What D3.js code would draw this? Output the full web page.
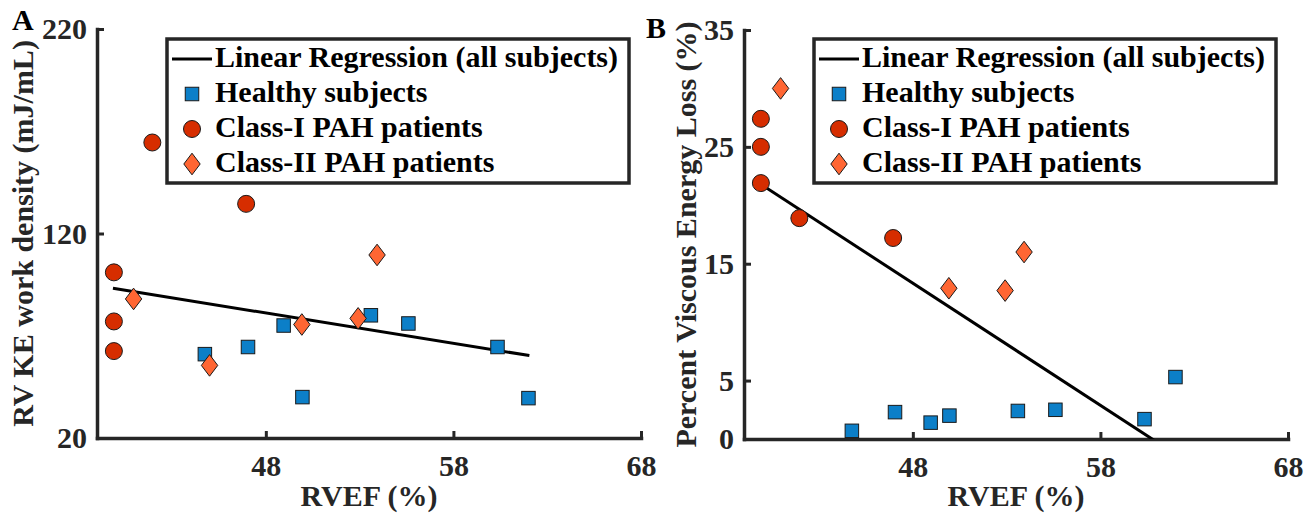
<!DOCTYPE html>
<html>
<head>
<meta charset="utf-8">
<title>RVEF vs KE work density and viscous energy loss</title>
<script src="https://cdnjs.cloudflare.com/ajax/libs/d3/7.8.5/d3.min.js"></script>
<style>
  body { margin: 0; background: #fff; }
  svg text { font-family: "Liberation Serif", "Times New Roman", serif; font-weight: bold; }
</style>
</head>
<body>
<svg id="chart" width="1304" height="517"></svg>
<script>
// RVEF (%) of each subject, shared by both panels
const rvefHealthy = [44.75, 47.05, 48.95, 49.95, 53.6, 55.6, 60.35, 62.0];
const rvefClassI = [39.9, 39.9, 39.9, 41.95, 46.95];
const rvefClassII = [40.95, 45.0, 49.92, 52.92, 53.93];

// panel A: RV KE work density (mJ/mL)
const kedHealthy = [61, 64.5, 75, 40, 80, 76, 64.5, 39.5];
const kedClassI = [101, 77, 62.5, 164.5, 134.5];
const kedClassII = [88, 55.5, 75.5, 78.5, 109.5];

// panel B: percent viscous energy loss (%)
const velHealthy = [0.7, 2.3, 1.4, 2.0, 2.4, 2.5, 1.7, 5.3];
const velClassI = [27.4, 25.0, 21.9, 18.9, 17.2];
const velClassII = [30.0, 28, 12.9, 12.7, 16.0];   // 2nd point sits behind the legend

// regression line end points (all subjects)
const regRvef = [39.85, 62.05];
const regKed = [93.2, 60.3];
const regVel = [21.85, -1.35];

// axes
const rvefDomain = [39, 68];
const rvefTicks = [48, 58, 68];
const kedTicks = [20, 120, 220];
const velTicks = [0, 5, 15, 25, 35];

const legendLabels = ['Linear Regression (all subjects)', 'Healthy subjects',
                      'Class-I PAH patients', 'Class-II PAH patients'];

const BLUE = '#0c7fc8', RED = '#d62d00', ORANGE = '#ff6633', AX = '#262626';

const svg = d3.select('#chart');

const panels = [
  { letter: 'A', letterX: 12, letterY: 30, left: 97, right: 641, top: 29, bottom: 438,
    yDomain: [20, 220], yTicks: kedTicks, yLabel: 'RV KE work density (mJ/mL)', yLabelX: 33,
    healthy: kedHealthy, classI: kedClassI, classII: kedClassII, reg: regKed },
  { letter: 'B', letterX: 646, letterY: 38, left: 744, right: 1288, top: 30, bottom: 439,
    yDomain: [0, 35], yTicks: velTicks, yLabel: 'Percent Viscous Energy Loss (%)', yLabelX: 696,
    healthy: velHealthy, classI: velClassI, classII: velClassII, reg: regVel }
];

function square(sel, cx, cy) {
  sel.append('rect')
    .attr('x', cx - 6.75).attr('y', cy - 6.75)
    .attr('width', 13.5).attr('height', 13.5)
    .attr('fill', BLUE).attr('stroke', '#1a1a1a').attr('stroke-width', 1);
}
function circle(sel, cx, cy) {
  sel.append('circle')
    .attr('cx', cx).attr('cy', cy).attr('r', 8.5)
    .attr('fill', RED).attr('stroke', '#1a1a1a').attr('stroke-width', 1);
}
function diamond(sel, cx, cy) {
  sel.append('path')
    .attr('d', `M${cx},${cy - 10.8}L${cx + 8.2},${cy}L${cx},${cy + 10.8}L${cx - 8.2},${cy}Z`)
    .attr('fill', ORANGE).attr('stroke', '#1a1a1a').attr('stroke-width', 1);
}

function styleAxis(g) {
  g.attr('font-size', 30)
    .attr('font-family', '"Liberation Serif", "Times New Roman", serif')
    .attr('font-weight', 'bold');
  g.select('.domain').attr('stroke', AX).attr('stroke-width', 3.5).attr('stroke-linecap', 'square');
  g.selectAll('.tick line').attr('stroke', AX).attr('stroke-width', 3);
  g.selectAll('.tick text').attr('fill', AX);
}

panels.forEach(p => {
  const x = d3.scaleLinear().domain(rvefDomain).range([p.left, p.right]);
  const y = d3.scaleLinear().domain(p.yDomain).range([p.bottom, p.top]);
  const g = svg.append('g');

  const clipId = 'clip' + p.letter;
  svg.append('clipPath').attr('id', clipId)
    .append('rect')
      .attr('x', p.left).attr('y', p.top)
      .attr('width', p.right - p.left).attr('height', p.bottom - p.top);

  // axes
  g.append('g')
    .attr('transform', `translate(0,${p.bottom})`)
    .call(d3.axisBottom(x).tickValues(rvefTicks).tickSizeInner(-7).tickSizeOuter(0).tickPadding(17))
    .call(styleAxis);

  g.append('g')
    .attr('transform', `translate(${p.left},0)`)
    .call(d3.axisLeft(y).tickValues(p.yTicks).tickSizeInner(-7).tickSizeOuter(0).tickPadding(10))
    .call(styleAxis);

  // axis labels
  g.append('text')
    .attr('x', (p.left + p.right) / 2).attr('y', 506)
    .attr('text-anchor', 'middle').attr('font-size', 30).attr('fill', AX)
    .text('RVEF (%)');

  g.append('text')
    .attr('transform', `translate(${p.yLabelX},${(p.top + p.bottom) / 2}) rotate(-90)`)
    .attr('text-anchor', 'middle').attr('font-size', 30).attr('fill', AX)
    .text(p.yLabel);

  g.append('text')
    .attr('x', p.letterX).attr('y', p.letterY)
    .attr('font-size', 30).attr('fill', '#000')
    .text(p.letter);

  // regression line
  g.append('line')
    .attr('clip-path', `url(#${clipId})`)
    .attr('x1', x(regRvef[0])).attr('y1', y(p.reg[0]))
    .attr('x2', x(regRvef[1])).attr('y2', y(p.reg[1]))
    .attr('stroke', '#000').attr('stroke-width', 3);

  // markers
  const m = g.append('g');
  rvefHealthy.forEach((v, i) => square(m, x(v), y(p.healthy[i])));
  rvefClassI.forEach((v, i) => circle(m, x(v), y(p.classI[i])));
  rvefClassII.forEach((v, i) => diamond(m, x(v), y(p.classII[i])));

  // legend
  const lx = p.left + 70, ly = 39;
  const lg = g.append('g');
  lg.append('rect')
    .attr('x', lx).attr('y', ly).attr('width', 462).attr('height', 144)
    .attr('fill', '#fff').attr('stroke', AX).attr('stroke-width', 3.5);
  lg.append('line')
    .attr('x1', lx + 5).attr('x2', lx + 45).attr('y1', ly + 20).attr('y2', ly + 20)
    .attr('stroke', '#000').attr('stroke-width', 3);
  square(lg, lx + 25, ly + 55);
  circle(lg, lx + 25, ly + 90);
  diamond(lg, lx + 25, ly + 125);
  legendLabels.forEach((t, i) => {
    lg.append('text')
      .attr('x', lx + 48).attr('y', ly + 28 + i * 35)
      .attr('font-size', 30).attr('fill', '#000')
      .text(t);
  });
});
</script>
</body>
</html>
